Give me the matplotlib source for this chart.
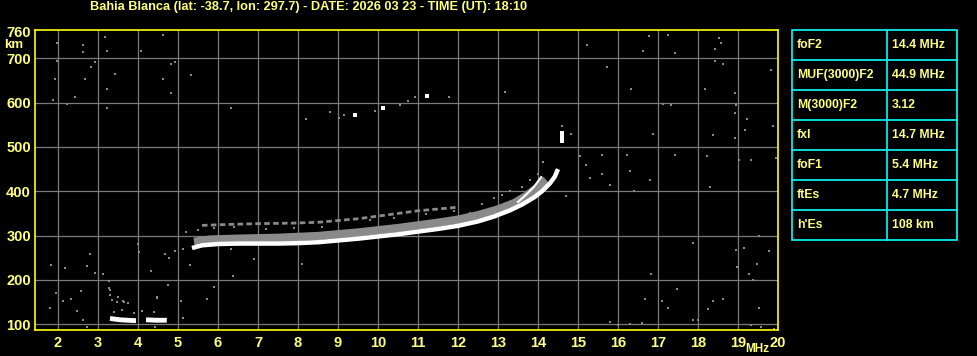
import matplotlib
matplotlib.use("Agg")
import matplotlib.pyplot as plt
from matplotlib.patches import Rectangle
from matplotlib.lines import Line2D

plt.rcParams["font.family"] = ["Liberation Sans", "DejaVu Sans"]
plt.rcParams["font.weight"] = "bold"

yellow = "#ffff80"
border = "#ffff00"
cyan = "#00ffff"
gridcol = "#7a7a7a"
dotcol = "#8a8a8a"

title = "Bahia Blanca (lat: -38.7, lon: 297.7) - DATE: 2026 03 23 - TIME (UT): 18:10"

freq_ticks = list(range(2, 21))
height_ticks = [100, 200, 300, 400, 500, 600, 700, 760]

# ordinary F trace (white)
o_freq = [5.35, 5.6, 6.0, 6.5, 7.0, 7.5, 8.0, 8.5, 9.0, 9.5, 10.0, 10.5, 11.0, 11.5,
          12.0, 12.5, 12.9, 13.3, 13.6, 13.9, 14.1, 14.3, 14.42, 14.5]
o_height = [272, 278, 281, 282, 282, 282, 283, 285, 289, 293, 298, 303, 309, 315,
            322, 332, 343, 357, 370, 386, 400, 418, 433, 450]

# second thin white branch near the cusp
o2_freq = [13.5, 13.7, 13.9, 14.08]
o2_height = [376, 392, 410, 432]

# grey echo band just above the trace
g_freq = [5.4, 5.8, 6.5, 7.0, 7.5, 8.0, 8.5, 9.0, 9.5, 10.0, 10.5, 11.0, 11.5,
          12.0, 12.5, 13.0, 13.4, 13.7, 14.0, 14.2]
g_height = [286, 291, 293, 294, 295, 297, 299, 303, 307, 312, 317, 323, 329,
            336, 346, 359, 373, 389, 409, 426]

# broken grey trace higher up
u_freq = [5.6, 6.2, 7.0, 7.8, 8.5, 9.0, 9.5, 10.0, 10.5, 11.0, 11.5, 12.0]
u_height = [323, 325, 327, 328, 330, 334, 338, 344, 350, 356, 360, 364]

# sporadic E (white segments)
es1_freq = [3.3, 3.55, 3.95]
es1_height = [113, 110, 108]
es2_freq = [4.2, 4.45, 4.72]
es2_height = [110, 109, 109]

# scattered white specks
w_freq = [9.43, 10.13, 11.23, 14.6, 14.6, 14.6]
w_height = [573, 587, 614, 513, 522, 531]

# scattered grey noise
n_freq = [1.98, 2.63, 2.63, 3.18, 3.23, 4.08, 4.63, 1.98, 2.93, 2.83, 1.93, 2.68,
          3.43, 3.23, 4.83, 4.93, 5.33, 4.63, 4.83, 1.88, 2.43, 2.23, 6.33, 3.23,
          15.23, 16.78, 17.25, 16.63, 17.43, 18.53, 18.58, 18.43, 18.43, 18.63,
          15.73, 19.83, 16.33, 18.18, 18.93, 17.13, 17.33, 18.95, 18.93, 19.23,
          19.18, 19.88, 14.83, 16.88, 18.38, 18.93, 15.05, 15.6, 16.23, 17.43,
          18.23, 19.03, 19.33, 19.95,
          17.88, 16.83, 19.78, 19.48, 19.28, 19.38, 18.95, 18.98, 19.53, 19.15,
          16.68, 17.1, 17.25, 17.48, 18.38, 18.25, 18.63, 19.53, 17.88, 19.33, 19.58,
          1.83, 2.18, 2.8, 2.73, 2.93, 3.13, 1.95, 1.8, 2.13, 2.33, 2.48, 2.58,
          2.63, 2.73, 3.28, 3.3, 3.35, 3.65, 4.0, 4.03, 4.33, 4.48, 4.68, 4.78,
          4.93, 5.13, 5.2, 5.08, 5.13, 5.3, 5.73, 5.9, 6.33, 6.38, 6.9, 8.1, 4.43,
          8.2, 8.8, 9.03, 9.15, 9.93, 10.55, 10.75, 10.93, 11.78, 13.18,
          3.28, 3.3, 3.5, 3.47, 3.63, 3.75, 4.47, 4.75, 3.4, 3.6, 3.9, 4.1, 4.4,
          14.13, 14.6, 15.3, 15.6, 15.8, 16.3, 16.4, 16.8, 18.3, 15.2, 14.7,
          12.6, 12.9, 13.1, 13.3, 13.6, 13.8, 14.0, 12.8, 13.45, 11.9,
          15.8, 16.0, 16.3, 16.6, 18.0, 19.9,
          5.5, 5.9, 6.4, 7.2, 7.9, 8.6, 9.8, 10.4, 11.2, 12.3]
n_height = [735, 730, 714, 748, 717, 717, 753, 694, 692, 680, 653, 653,
            664, 630, 687, 692, 662, 653, 621, 607, 612, 598, 589, 589,
            730, 751, 753, 717, 712, 746, 735, 721, 694, 687,
            680, 673, 630, 630, 621, 598, 594, 594, 576, 562,
            539, 548, 530, 530, 526, 521, 480, 482, 482, 482,
            480, 471, 471, 476,
            284, 214, 266, 236, 214, 200, 268, 230, 298, 273,
            157, 152, 136, 180, 152, 134, 157, 136, 109, 98, 93,
            234, 227, 259, 232, 216, 214, 170, 136, 152, 157, 130, 175,
            109, 93, 198, 177, 155, 150, 280, 264, 220, 159, 259, 250,
            266, 270, 309, 152, 114, 234, 157, 184, 270, 209, 248, 236, 93,
            562, 578, 566, 573, 582, 594, 603, 612, 612, 623,
            181, 165, 161, 151, 153, 148, 162, 189, 128, 132, 125, 130, 127,
            466, 548, 430, 440, 415, 445, 400, 425, 410, 460, 390,
            372, 385, 392, 400, 410, 425, 440, 360, 380, 356,
            105, 98, 100, 103, 110, 90,
            312, 318, 320, 316, 318, 320, 335, 340, 348, 352]

table_rows = ["foF2", "MUF(3000)F2", "M(3000)F2", "fxI", "foF1", "ftEs", "h'Es"]
table_vals = ["14.4 MHz", "44.9 MHz", "3.12", "14.7 MHz", "5.4 MHz", "4.7 MHz", "108 km"]

W, H = 978, 356
fig = plt.figure(figsize=(W / 100, H / 100), dpi=100, facecolor="black")
ax = fig.add_axes([35 / W, 1 - 330 / H, 743 / W, 300.5 / H], facecolor="black")

ax.set_xlim(1.425, 20)
ax.set_ylim(87, 765)

for f in freq_ticks[:-1]:
    ax.axvline(f, color=gridcol, lw=0.9, zorder=1)
for h in height_ticks[:-1]:
    ax.axhline(h, color=gridcol, lw=0.9, zorder=1)

ax.scatter(n_freq, n_height, marker="s", s=4, color=dotcol, linewidths=0, zorder=2)
ax.plot(u_freq, u_height, color=dotcol, lw=2, ls=(0, (2, 1.2)), zorder=2)
ax.plot(g_freq, g_height, color=dotcol, lw=6, solid_capstyle="butt", zorder=3)
ax.plot(o_freq, o_height, color="white", lw=3.2, solid_capstyle="butt", zorder=4)
ax.plot(o2_freq, o2_height, color="white", lw=1.5, zorder=4)
ax.plot(es1_freq, es1_height, color="white", lw=3.5, solid_capstyle="butt", zorder=4)
ax.plot(es2_freq, es2_height, color="white", lw=3.5, solid_capstyle="butt", zorder=4)
ax.scatter(w_freq, w_height, marker="s", s=5, color="white", linewidths=0, zorder=4)

ax.set_xticks(freq_ticks)
ax.set_yticks(height_ticks)
ax.set_xticklabels([str(f) for f in freq_ticks])
ax.set_yticklabels([str(h) for h in height_ticks])
ax.tick_params(axis="both", length=0, labelcolor=yellow, labelsize=10.5)
ax.tick_params(axis="x", pad=4.5)
ax.tick_params(axis="y", pad=3)
for s in ax.spines.values():
    s.set_color(border)
    s.set_linewidth(1.2)

fig.text(90 / W, 1 - 7 / H, title, color=yellow, fontsize=9.2, ha="left", va="center")
fig.text(14 / W, 1 - 45.5 / H, "km", color=yellow, fontsize=9.5, ha="center", va="center")
fig.text(757 / W, 1 - 349 / H, "MHz", color=yellow, fontsize=8.5, ha="center", va="center")

# parameter table
x0, x1, x2 = 792, 887, 957
y0, rh = 30, 30
n = len(table_rows)
fig.add_artist(Rectangle((x0 / W, 1 - (y0 + n * rh) / H), (x2 - x0) / W, n * rh / H,
                         transform=fig.transFigure, fill=False, edgecolor=cyan, lw=1.2))
fig.add_artist(Line2D([x1 / W, x1 / W], [1 - y0 / H, 1 - (y0 + n * rh) / H],
                      transform=fig.transFigure, color=cyan, lw=1.2))
for i in range(n):
    if i > 0:
        yy = 1 - (y0 + i * rh) / H
        fig.add_artist(Line2D([x0 / W, x2 / W], [yy, yy], transform=fig.transFigure,
                              color=cyan, lw=1.2))
    yc = 1 - (y0 + i * rh + rh / 2) / H
    fig.text((x0 + 5) / W, yc, table_rows[i], color=yellow, fontsize=8.8, ha="left", va="center")
    fig.text((x1 + 5) / W, yc, table_vals[i], color=yellow, fontsize=8.8, ha="left", va="center")

fig.savefig("out.png", dpi=100, facecolor="black")
